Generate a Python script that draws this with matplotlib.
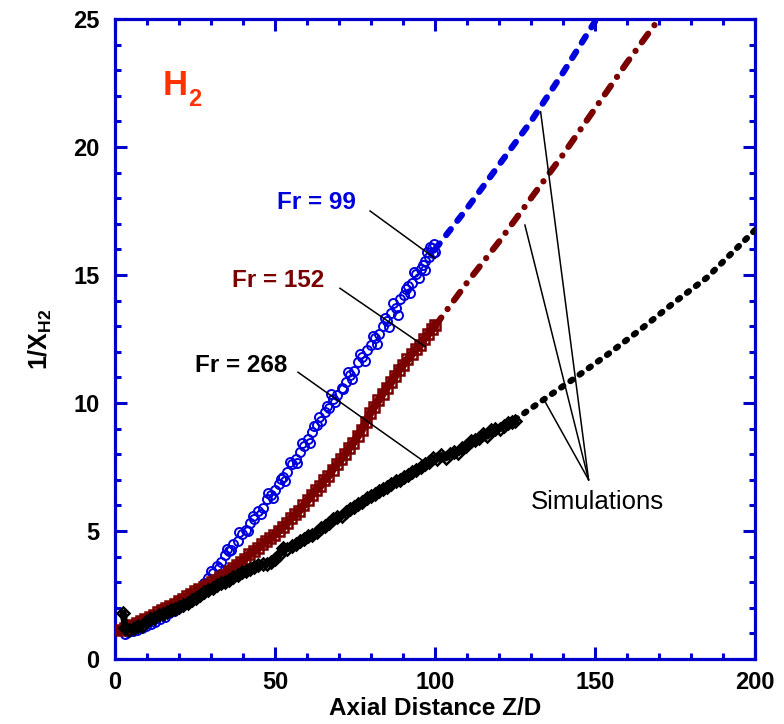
import matplotlib
matplotlib.use("Agg")
import matplotlib.pyplot as plt
from matplotlib.ticker import MultipleLocator

plt.rcParams['font.family'] = ['Liberation Sans', 'DejaVu Sans']
plt.rcParams['mathtext.fontset'] = 'custom'
plt.rcParams['mathtext.rm'] = 'Liberation Sans'
plt.rcParams['mathtext.bf'] = 'Liberation Sans:bold'

# ---------------------------------------------------------
# experimental data, read off the picture
# ---------------------------------------------------------
zd_99 = [3.0, 4.2, 5.5, 7.0, 8.3, 9.8, 11.2, 12.6, 14.0, 15.5, 17.0, 18.4, 19.8, 21.2,
         22.6, 24.0, 25.3, 26.6, 27.9, 29.2, 30.5, 31.8, 33.1, 34.4, 35.7, 37.0, 38.3,
         39.6, 40.9, 42.2, 43.5, 44.8, 46.1, 47.4, 48.7, 50.0, 51.3, 52.6, 53.9, 55.2,
         56.5, 57.8, 59.1, 60.4, 61.7, 63.0, 64.3, 65.6, 66.9, 68.2, 69.5, 70.8, 72.1,
         73.4, 74.7, 76.0, 77.3, 78.6, 79.9, 81.2, 82.5, 83.8, 85.1, 86.4, 87.7, 89.0,
         90.3, 91.6, 92.9, 94.2, 95.5, 96.8, 98.0, 99.0, 99.8, 99.3, 97.5,
         30.0, 32.4, 34.9, 36.3, 38.8, 41.5, 43.0, 45.5, 47.9, 49.4, 51.8, 53.2, 54.6,
         56.9, 58.4, 60.9, 62.3, 63.7, 66.2, 67.5, 68.9, 71.4, 72.7, 74.1, 76.6, 78.0,
         80.5, 81.9, 84.4, 85.7, 87.0, 88.3, 90.9, 92.2, 93.5, 95.0, 96.2, 97.0, 98.5, 100.0]
inv_99 = [0.98, 1.05, 1.08, 1.15, 1.22, 1.28, 1.36, 1.45, 1.55, 1.65, 1.78, 1.88, 2.0, 2.12,
          2.25, 2.4, 2.55, 2.75, 2.95, 3.18, 3.35, 3.62, 3.8, 4.05, 4.2, 4.5, 4.62,
          4.88, 5.05, 5.3, 5.45, 5.78, 5.9, 6.25, 6.4, 6.62, 6.85, 7.1, 7.3, 7.6,
          7.8, 8.1, 8.3, 8.6, 8.85, 9.15, 9.3, 9.65, 9.8, 10.15, 10.3, 10.6, 10.8,
          11.1, 11.25, 11.6, 11.8, 12.05, 12.25, 12.55, 12.7, 13.0, 13.2, 13.5, 13.7, 14.05,
          14.2, 14.55, 14.7, 15.05, 15.25, 15.55, 15.7, 16.05, 16.2, 15.85, 15.9,
          3.45, 3.55, 4.3, 4.25, 4.95, 5.0, 5.6, 5.65, 6.5, 6.3, 7.05, 6.95, 7.7,
          7.65, 8.45, 8.45, 9.1, 9.45, 9.9, 10.35, 10.05, 10.55, 11.2, 10.95, 11.9, 11.65,
          12.6, 12.3, 13.3, 12.95, 13.9, 13.45, 14.45, 14.3, 15.1, 14.9, 15.4, 15.2, 16.1, 15.9]

zd_152 = [1.8, 3.0, 4.3, 5.6, 6.9, 8.2, 9.5, 10.8, 12.1, 13.4, 14.7, 16.0, 17.3, 18.6,
          19.9, 21.2, 22.5, 23.8, 25.1, 26.4, 27.7, 29.0, 30.3, 31.6, 32.9, 34.2, 35.5,
          36.8, 38.1, 39.4, 40.7, 42.0, 43.3, 44.6, 45.9, 47.2, 48.5, 49.8, 51.1, 52.4,
          53.7, 55.0, 56.3, 57.6, 58.9, 60.2, 61.5, 62.8, 64.1, 65.4, 66.7, 68.0, 69.3,
          70.6, 71.9, 73.2, 74.5, 75.8, 77.1, 78.4, 79.7, 81.0, 82.3, 83.6, 84.9, 86.2,
          87.5, 88.8, 90.1, 91.4, 92.7, 94.0, 95.3, 96.6, 97.9, 99.2, 100.0]
inv_152 = [1.15, 1.2, 1.27, 1.33, 1.4, 1.48, 1.57, 1.64, 1.72, 1.82, 1.9, 1.98, 2.08, 2.16,
           2.28, 2.36, 2.46, 2.55, 2.66, 2.72, 2.82, 2.9, 3.0, 3.1, 3.22, 3.3, 3.45,
           3.55, 3.68, 3.8, 3.92, 4.1, 4.2, 4.32, 4.48, 4.6, 4.72, 4.85, 5.0, 5.15,
           5.3, 5.5, 5.65, 5.8, 6.0, 6.2, 6.4, 6.6, 6.75, 7.0, 7.15, 7.4, 7.6,
           7.8, 8.0, 8.25, 8.45, 8.7, 8.95, 9.25, 9.6, 9.85, 10.1, 10.35, 10.6, 10.8,
           11.05, 11.3, 11.5, 11.7, 11.9, 12.1, 12.25, 12.5, 12.7, 12.9, 13.05]

zd_268 = [2.6, 3.2, 4.5, 5.8, 7.1, 8.4, 9.7, 11.0, 12.3, 13.6, 14.9, 16.2, 17.5, 18.8,
          20.1, 21.4, 22.7, 24.0, 25.3, 26.6, 27.9, 29.2, 30.5, 31.8, 33.1, 34.4, 35.7,
          37.0, 38.3, 39.6, 40.9, 42.2, 43.5, 44.8, 46.1, 47.4, 48.7, 50.0, 51.3, 52.6,
          53.9, 55.2, 56.5, 57.8, 59.1, 60.4, 61.7, 63.0, 64.3, 65.6, 66.9, 68.2, 69.5,
          70.8, 72.1, 73.4, 74.7, 76.0, 77.3, 78.6, 79.9, 81.2, 82.5, 83.8, 85.1, 86.4,
          87.7, 89.0, 90.3, 91.6, 92.9, 94.2, 95.5, 96.8, 98.1, 99.4, 100.7, 102.0, 103.3,
          104.6, 105.9, 107.2, 108.5, 109.8, 111.1, 112.4, 113.7, 115.0, 116.3, 117.6, 118.9,
          120.2, 121.5, 122.8, 124.0, 125.0]
inv_268 = [1.78, 1.2, 1.15, 1.22, 1.3, 1.28, 1.45, 1.55, 1.6, 1.7, 1.75, 1.82, 1.9, 1.95,
           2.02, 2.12, 2.2, 2.3, 2.38, 2.5, 2.6, 2.7, 2.78, 2.88, 2.95, 3.02, 3.1,
           3.2, 3.3, 3.38, 3.45, 3.52, 3.6, 3.66, 3.7, 3.72, 3.8, 3.9, 4.05, 4.35,
           4.3, 4.4, 4.5, 4.6, 4.7, 4.8, 4.85, 4.95, 5.1, 5.2, 5.3, 5.45, 5.55,
           5.6, 5.75, 5.85, 5.95, 6.05, 6.15, 6.3, 6.35, 6.45, 6.55, 6.65, 6.72, 6.85,
           6.95, 7.0, 7.1, 7.2, 7.3, 7.4, 7.5, 7.6, 7.7, 7.85, 7.8, 7.95, 7.85,
           8.0, 8.1, 8.05, 8.25, 8.3, 8.5, 8.55, 8.65, 8.8, 8.7, 8.95, 9.0,
           9.0, 9.1, 9.2, 9.25, 9.3]

# simulations (only the part beyond the measurements is visible)
sim_zd_99 = [100, 110, 120, 130, 140, 150]
sim_inv_99 = [16.0, 17.6, 19.3, 21.0, 22.9, 24.9]
sim_zd_152 = [100, 110, 120, 130, 140, 150, 160, 170]
sim_inv_152 = [13.0, 14.7, 16.3, 18.0, 19.7, 21.5, 23.3, 25.0]
sim_zd_268 = [125, 133, 144, 154, 164, 175, 185, 200]
sim_inv_268 = [9.35, 10.05, 11.0, 11.9, 12.85, 13.95, 14.9, 16.75]

AZUL = '#0000DD'
GUINDA = '#7A0000'
MARCO = '#0000CC'

fig = plt.figure(figsize=(7.84, 7.24), dpi=100)
ax = fig.add_axes([0.1467, 0.0898, 0.8163, 0.884])

# datos experimentales
ax.plot(zd_99, inv_99, ls='none', marker='o', ms=6.5, mfc='none', mec=AZUL, mew=1.4, zorder=2)
ax.plot(zd_152, inv_152, color=GUINDA, lw=6, zorder=3)
ax.plot(zd_152, inv_152, ls='none', marker='s', ms=7, mfc='none', mec=GUINDA, mew=1.8, zorder=3)
ax.plot(zd_268, inv_268, color='black', lw=5, zorder=4)
ax.plot(zd_268, inv_268, ls='none', marker='D', ms=6, mfc='none', mec='black', mew=1.8, zorder=4)

# simulaciones
ax.plot(sim_zd_99, sim_inv_99, color=AZUL, lw=4.5, ls=(0, (1.2, 1.7)),
        dash_capstyle='round', zorder=5)
ax.plot(sim_zd_152, sim_inv_152, color=GUINDA, lw=4.5, ls=(0, (1.7, 1.7, 0.01, 1.7)),
        dash_capstyle='round', zorder=5)
ax.plot(sim_zd_268, sim_inv_268, color='black', lw=4.5, ls=(0, (0.4, 1.4)),
        dash_capstyle='round', zorder=5)

# etiquetas
ax.text(63.1, 17.83, 'Fr = 99', color=AZUL, fontsize=17.5, fontweight='bold',
        ha='center', va='center')
ax.plot([79.7, 100], [17.5, 15.65], color='black', lw=1.1, zorder=6)
ax.text(51.1, 14.8, 'Fr = 152', color=GUINDA, fontsize=17.5, fontweight='bold',
        ha='center', va='center')
ax.plot([70.3, 96.9], [14.48, 12.2], color='black', lw=1.1, zorder=6)
ax.text(39.5, 11.45, 'Fr = 268', color='black', fontsize=17.5, fontweight='bold',
        ha='center', va='center')
ax.plot([57.2, 97.4], [11.2, 7.64], color='black', lw=1.1, zorder=6)

ax.text(150.8, 6.15, 'Simulations', color='black', fontsize=18.5, ha='center', va='center')
for tx, ty in [(134.4, 10.05), (128.1, 16.95), (133.0, 21.38)]:
    ax.plot([148.0, tx], [7.0, ty], color='black', lw=1.1, zorder=6)

ax.text(15.0, 22.03, 'H', color='#FF3300', fontsize=25, fontweight='bold', va='baseline')
ax.text(22.8, 21.6, '2', color='#FF3300', fontsize=17, fontweight='bold', va='baseline')

# ejes
ax.set_xlim(0, 200)
ax.set_ylim(0, 25)
ax.xaxis.set_major_locator(MultipleLocator(50))
ax.xaxis.set_minor_locator(MultipleLocator(10))
ax.yaxis.set_major_locator(MultipleLocator(5))
ax.yaxis.set_minor_locator(MultipleLocator(1))
for s in ax.spines.values():
    s.set_color(MARCO)
    s.set_linewidth(2.3)
ax.tick_params(which='both', direction='in', top=True, right=True, color=MARCO,
               width=2.2, labelsize=17)
ax.tick_params(which='major', length=8.5)
ax.tick_params(which='minor', length=4.5)
ax.tick_params(axis='x', which='major', pad=9)
ax.tick_params(axis='y', which='major', pad=11)
for lbl in ax.get_xticklabels() + ax.get_yticklabels():
    lbl.set_fontweight('bold')

ax.set_xlabel('Axial Distance Z/D', fontsize=17.5, fontweight='bold', labelpad=2)
ax.set_ylabel(r'$\mathbf{1/X_{H2}}$', fontsize=18, labelpad=14)

plt.savefig('out.png', dpi=100)
